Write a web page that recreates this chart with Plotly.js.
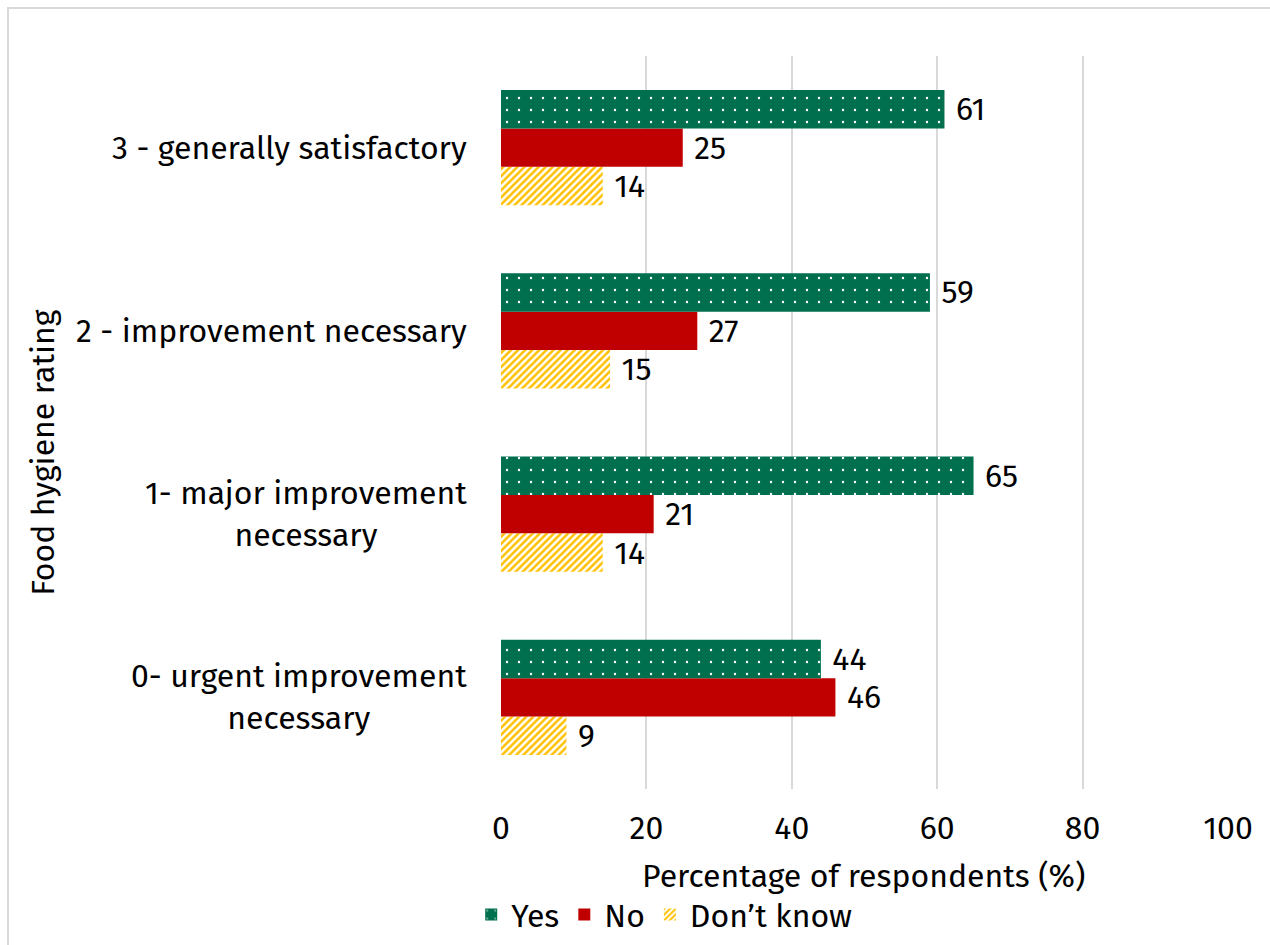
<!DOCTYPE html>
<html>
<head>
<meta charset="utf-8">
<script src="https://cdn.plot.ly/plotly-3.0.1.min.js"></script>
<style>
  html, body { margin: 0; padding: 0; background: #ffffff; }
  #wrap { position: relative; width: 1270px; height: 945px; overflow: hidden; }
  #chart { position: absolute; left: 0; top: 0; width: 1270px; height: 945px; }
  #frame { position: absolute; left: 7px; top: 7px; width: 1300px; height: 1000px;
           border: 2px solid #d9d9d9; pointer-events: none; }
</style>
</head>
<body>
<div id="wrap">
  <div id="chart"></div>
  <div id="frame"></div>
</div>
<script>
const categories = [
  "0- urgent improvement<br>necessary",
  "1- major improvement<br>necessary",
  "2 - improvement necessary",
  "3 - generally satisfactory"
];
const yesValues = [44, 65, 59, 61];
const noValues = [46, 21, 27, 25];
const dontKnowValues = [9, 14, 15, 14];
const seriesNames = ["Yes", "No", "Don\u2019t know"];
const xTicks = [0, 20, 40, 60, 80, 100];
const xTitle = "Percentage of respondents (%)";
const yTitle = "Food hygiene rating";

const FONT = '"Fira Sans", "Noto Sans", "Open Sans", sans-serif';
const FS = 32;
const labelFont = { family: FONT, size: FS, color: "#000000" };
const pad = "\u00a0";

const traceDK = {
  type: "bar", orientation: "h", name: seriesNames[2],
  y: categories, x: dontKnowValues,
  text: dontKnowValues.map(v => pad + v), textposition: "outside",
  textfont: labelFont, cliponaxis: false,
  marker: { color: "#ffffff", line: { width: 0 },
    pattern: { shape: "/", fgcolor: "#FFC000", bgcolor: "#ffffff", size: 5, solidity: 0.5, fillmode: "replace" } },
  hoverinfo: "x+name"
};
const traceNo = {
  type: "bar", orientation: "h", name: seriesNames[1],
  y: categories, x: noValues,
  text: noValues.map(v => pad + v), textposition: "outside",
  textfont: labelFont, cliponaxis: false,
  marker: { color: "#C00000", line: { width: 0 } },
  hoverinfo: "x+name"
};
const traceYes = {
  type: "bar", orientation: "h", name: seriesNames[0],
  y: categories, x: yesValues,
  text: yesValues.map(v => pad + v), textposition: "outside",
  textfont: labelFont, cliponaxis: false,
  marker: { color: "#006F4E", line: { width: 0 },
    pattern: { shape: ".", fgcolor: "#ffffff", bgcolor: "#006F4E", size: 12, solidity: 0.03, fillmode: "replace" } },
  hoverinfo: "x+name"
};

// category labels drawn as centered multi-line text beside the axis
const catAnnotations = categories.map(c => ({
  xref: "x", yref: "y", x: 0, y: c, text: c,
  xanchor: "right", yanchor: "middle", align: "center",
  xshift: -32, showarrow: false,
  font: { family: FONT, size: FS, color: "#000000" }
}));

const titleAnnotations = [
  {
    xref: "paper", yref: "paper", x: -0.63, y: 0.46,
    xanchor: "center", yanchor: "middle", textangle: -90,
    text: yTitle, showarrow: false,
    font: { family: FONT, size: FS, color: "#000000" }
  },
  {
    xref: "paper", yref: "paper", x: 0.498, y: -0.119,
    xanchor: "center", yanchor: "middle",
    text: xTitle, showarrow: false,
    font: { family: FONT, size: FS, color: "#000000" }
  }
];

const layout = {
  width: 1270, height: 945,
  margin: { l: 501, r: 42, t: 56, b: 156, autoexpand: false },
  paper_bgcolor: "rgba(0,0,0,0)",
  plot_bgcolor: "#ffffff",
  barmode: "group",
  bargap: 0.37,
  bargroupgap: 0,
  font: { family: FONT, size: FS, color: "#000000" },
  showlegend: true,
  legend: {
    orientation: "h", traceorder: "reversed",
    xref: "container", yref: "container",
    x: 0.523, xanchor: "center", y: 0.032, yanchor: "middle",
    font: { family: FONT, size: FS, color: "#000000" },
    itemwidth: 30, tracegroupgap: 0
  },
  annotations: catAnnotations.concat(titleAnnotations),
  xaxis: {
    range: [0, 100], tickvals: xTicks, ticktext: xTicks.map(String),
    showgrid: true, gridcolor: "#d9d9d9", gridwidth: 2,
    zeroline: false, showline: false, ticks: "",
    ticklabelstandoff: 17, automargin: false,
    tickfont: { family: FONT, size: FS, color: "#000000" },
    fixedrange: true
  },
  yaxis: {
    type: "category", categoryorder: "array", categoryarray: categories,
    showgrid: false, zeroline: false, showline: false, ticks: "",
    showticklabels: false, automargin: false,
    fixedrange: true
  }
};

Plotly.newPlot("chart", [traceDK, traceNo, traceYes], layout, { displayModeBar: false, staticPlot: true });
</script>
</body>
</html>
